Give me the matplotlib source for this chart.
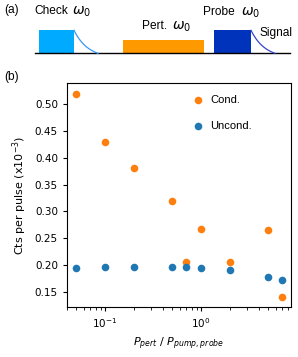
import matplotlib.pyplot as plt
import numpy as np

# pulse scheme (panel a), in pixel-like units
pulse_names = ["Check", "Pert.", "Probe"]
pulse_start = [39, 123, 214]
pulse_width = [35, 81, 37]
pulse_height = [23, 13, 23]
pulse_colors = ["#00aaff", "#ff9900", "#0033bb"]
decay_colors = ["#3399ff", None, "#3344cc"]
label_pos = [(34, 11), (142, 26), (203, 12)]
omega_pos = [(72, 12), (172, 27), (241, 13)]

# data (panel b)
p_ratio = [0.05, 0.1, 0.2, 0.5, 0.7, 1.0, 2.0, 5.0, 7.0]
cond = [0.518, 0.430, 0.380, 0.319, 0.206, 0.268, 0.206, 0.265, 0.141]
uncond = [0.195, 0.197, 0.197, 0.197, 0.197, 0.194, 0.190, 0.178, 0.172]

W, H = 298, 357
fig = plt.figure(figsize=(W / 100, H / 100), dpi=100)

# ---- panel (a)
axa = fig.add_axes([0, 1 - 60 / H, 1, 60 / H])
axa.set_xlim(0, W)
axa.set_ylim(60, 0)
axa.axis("off")
base = 53.3
axa.plot([35, 290], [base, base], color="black", lw=1.0)
for i in range(3):
    axa.add_patch(plt.Rectangle((pulse_start[i], base - pulse_height[i]),
                                pulse_width[i], pulse_height[i],
                                color=pulse_colors[i], lw=0))
    if decay_colors[i] is not None:
        t = np.linspace(0, 24, 60)
        y = pulse_height[i] * (np.exp(-t / 14) - np.exp(-24 / 14)) / (1 - np.exp(-24 / 14))
        x0 = pulse_start[i] + pulse_width[i]
        axa.plot(x0 + t, base - y, color=decay_colors[i], lw=0.9)

tkw = dict(family="Liberation Sans", fontsize=8.6, va="center", ha="left")
axa.text(4, 10, "(a)", **tkw)
for i in range(3):
    axa.text(label_pos[i][0], label_pos[i][1], pulse_names[i], **tkw)
    axa.text(omega_pos[i][0], omega_pos[i][1], r"$\omega_0$", fontsize=10,
             va="center", ha="left")
axa.text(259, 33, "Signal", **tkw)

# ---- panel (b)
ax = fig.add_axes([67 / W, 1 - 307 / H, (291 - 67) / W, (307 - 83) / H])
ax.scatter(p_ratio, cond, s=30, color="tab:orange", lw=0, label="Cond.")
ax.scatter(p_ratio, uncond, s=30, color="tab:blue", lw=0, label="Uncond.")
ax.set_xscale("log")
ax.set_xlim(0.040, 8.66)
ax.set_ylim(0.122, 0.539)
ax.set_yticks([0.15, 0.20, 0.25, 0.30, 0.35, 0.40, 0.45, 0.50])
ax.tick_params(labelsize=7.5, length=3)
ax.set_ylabel(r"Cts per pulse (x10$^{-3}$)", fontsize=8)
ax.set_xlabel(r"$P_{pert}$ / $P_{pump, probe}$", fontsize=8)
ax.legend(loc="upper right", frameon=False, prop={"family": "Liberation Sans", "size": 8},
          handletextpad=0.1, bbox_to_anchor=(0.87, 0.99), labelspacing=1.45)
fig.text(4 / W, 1 - 77 / H, "(b)", family="Liberation Sans", fontsize=8.6, va="center")

fig.savefig("out.png", dpi=100)
